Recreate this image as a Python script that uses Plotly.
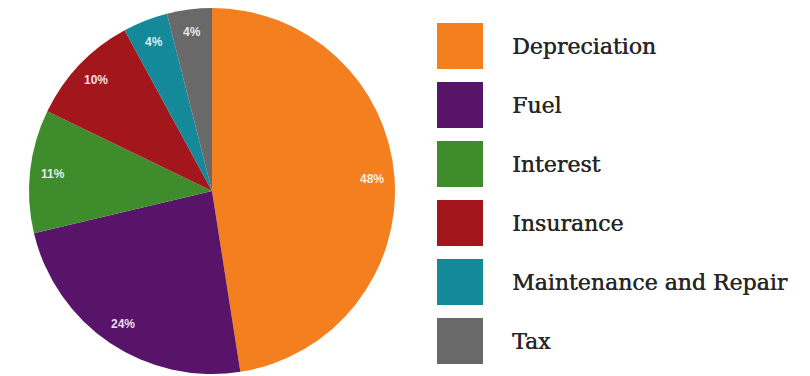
import math
import plotly.graph_objects as go

categories = ["Depreciation", "Fuel", "Interest", "Insurance", "Maintenance and Repair", "Tax"]
values = [48, 24, 11, 10, 4, 4]
colors = ["#F47F1F", "#581468", "#3E8C2C", "#A3171C", "#13899A", "#696969"]

W, H = 810, 376
cx, cy, R = 212.0, 191.0, 183.0

fig = go.Figure(go.Pie(
    labels=categories, values=values, sort=False, direction="clockwise", rotation=0,
    marker=dict(colors=colors, line=dict(width=0)),
    textinfo="none", hoverinfo="label+value", showlegend=False,
    domain=dict(x=[(cx - R) / W, (cx + R) / W], y=[(H - cy - R) / H, (H - cy + R) / H]),
))

annotations = []
shapes = []
total = sum(values)
cum = 0.0
for v in values:
    mid = (cum + v / 2) / total * 2 * math.pi
    cum += v
    r = 0.875 * R
    px = cx + r * math.sin(mid)
    py = cy - r * math.cos(mid)
    annotations.append(dict(
        x=px / W, y=(H - py) / H, xref="paper", yref="paper", showarrow=False,
        text=f"{v}%", xanchor="center", yanchor="middle",
        font=dict(family="Arial, Liberation Sans", size=12, color="rgba(255,255,255,0.88)", weight="bold"),
    ))

# legend
top0, step, size = 23, 59, 46
sx0 = 437
for i, (cat, col) in enumerate(zip(categories, colors)):
    t = top0 + i * step
    shapes.append(dict(type="rect", xref="paper", yref="paper",
                       x0=sx0 / W, x1=(sx0 + size) / W, y0=(H - t - size) / H, y1=(H - t) / H,
                       fillcolor=col, line=dict(width=0)))
    annotations.append(dict(
        x=510 / W, y=(H - t - size / 2) / H, xref="paper", yref="paper", showarrow=False,
        text=cat, xanchor="left", yanchor="middle",
        font=dict(family="DejaVu Serif", size=22, color="#262626",
                  shadow="0.4px 0 0 #262626"),
    ))

fig.update_layout(
    width=W, height=H, margin=dict(l=0, r=0, t=0, b=0),
    paper_bgcolor="white", plot_bgcolor="white",
    annotations=annotations, shapes=shapes,
)
fig.write_html("out.html")
